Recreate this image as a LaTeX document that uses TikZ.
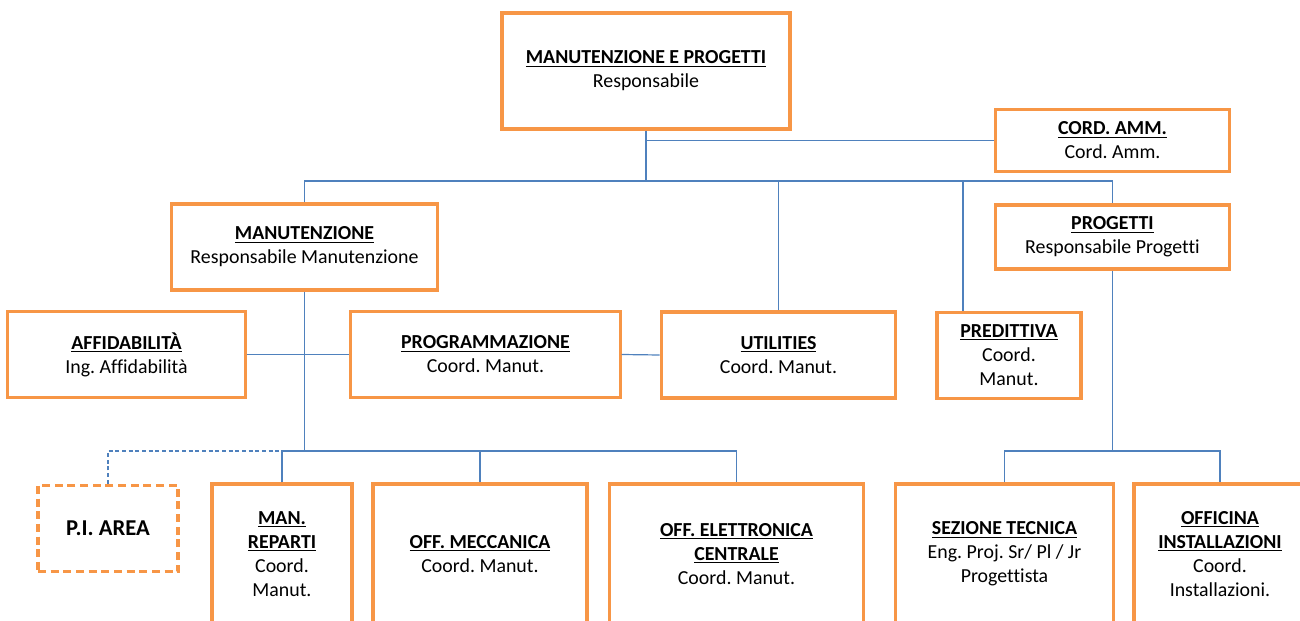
\documentclass[tikz,border=0pt]{standalone}
\usepackage{fontspec}
\setmainfont{Carlito}[Ligatures=CommonOff]
\frenchspacing
\definecolor{boxorange}{HTML}{F79646}
\definecolor{linkblue}{HTML}{4F81BD}
\begin{document}
\begin{tikzpicture}[x=0.75pt,y=-0.75pt,
  unit/.style={draw=boxorange, line width=2.3pt, fill=white, align=center,
    inner sep=2pt, font=\fontsize{14.9}{18}\selectfont},
  link/.style={draw=linkblue, line width=0.9pt}]

  \useasboundingbox (0,0) rectangle (1300,621);
  \clip (0,0) rectangle (1300,621);

  % top level
  \node[unit, minimum width=216pt, minimum height=87pt] (top) at (646,71)
    {\textbf{\underline{MANUTENZIONE E PROGETTI}}\\Responsabile};
  \node[unit, minimum width=176pt, minimum height=47pt] (cord) at (1112.5,140.5)
    {\textbf{\underline{CORD. AMM.}}\\Cord. Amm.};

  % second level
  \node[unit, minimum width=199pt, minimum height=64.5pt] (manut) at (304.5,247)
    {\textbf{\underline{MANUTENZIONE}}\\Responsabile Manutenzione};
  \node[unit, minimum width=176pt, minimum height=48pt] (prog) at (1112.5,237)
    {\textbf{\underline{PROGETTI}}\\Responsabile Progetti};

  % third level
  \node[unit, minimum width=178pt, minimum height=65pt] (affid) at (126.5,354.5)
    {\textbf{\underline{AFFIDABILITÀ}}\\Ing. Affidabilità};
  \node[unit, minimum width=202pt, minimum height=65pt] (progr) at (485.5,354.5)
    {\textbf{\underline{PROGRAMMAZIONE}}\\Coord. Manut.};
  \node[unit, minimum width=176pt, minimum height=64.5pt] (util) at (778.5,355)
    {\textbf{\underline{UTILITIES}}\\Coord. Manut.};
  \node[unit, minimum width=108pt, minimum height=65pt] (pred) at (1009,355.5)
    {\textbf{\underline{PREDITTIVA}}\\Coord.\\Manut.};

  % bottom level
  \node[unit, dash pattern=on 6pt off 3.5pt, minimum width=105pt, minimum height=65pt,
    font=\fontsize{17}{20}\selectfont] (piarea) at (108,528.5)
    {\textbf{P.I. AREA}};
  \node[unit, minimum width=105pt, minimum height=105pt] (manrep) at (282,554)
    {\textbf{\underline{MAN.}}\\\textbf{\underline{REPARTI}}\\Coord.\\Manut.};
  \node[unit, minimum width=160.5pt, minimum height=105pt] (offmec) at (480,554)
    {\textbf{\underline{OFF. MECCANICA}}\\Coord. Manut.};
  \node[unit, minimum width=191pt, minimum height=105pt] (offel) at (736.5,554)
    {\textbf{\underline{OFF. ELETTRONICA}}\\\textbf{\underline{CENTRALE}}\\Coord. Manut.};
  \node[unit, minimum width=163pt, minimum height=105pt] (sez) at (1004.5,554)
    {\textbf{\underline{SEZIONE TECNICA}}\\Eng. Proj. Sr/ Pl / Jr\\Progettista};
  \node[unit, minimum width=129pt, minimum height=105pt] (offic) at (1220,554)
    {\textbf{\underline{OFFICINA}}\\\textbf{\underline{INSTALLAZIONI}}\\Coord.\\Installazioni.};

  % bus points
  \coordinate (busA) at (646,181);
  \coordinate (busB) at (304.5,451);
  \coordinate (busC) at (1112.5,451);

  % connectors
  \draw[link] (top.south) -- (busA);
  \draw[link] (cord.west) -- (cord.west -| top.south);
  \draw[link] (manut.north) |- (busA) -| (prog.north);
  \draw[link] (util.north) -- (util.north |- busA);
  \draw[link] ([xshift=-34.5pt]pred.north) -- ([xshift=-34.5pt]pred.north |- busA);
  \draw[link] (manut.south) -- (busB);
  \draw[link] (affid.east) -- (progr.west);
  \draw[link] (progr.east) -- (util.west);
  \draw[link] (manrep.north) |- (offel.north |- busB) -- (offel.north);
  \draw[link] (offmec.north) -- (offmec.north |- busB);
  \draw[link, dash pattern=on 3pt off 2pt] (piarea.north) |- (manrep.north |- busB);
  \draw[link] (prog.south) -- (busC);
  \draw[link] (sez.north) |- (busC) -| (offic.north);

\end{tikzpicture}
\end{document}
